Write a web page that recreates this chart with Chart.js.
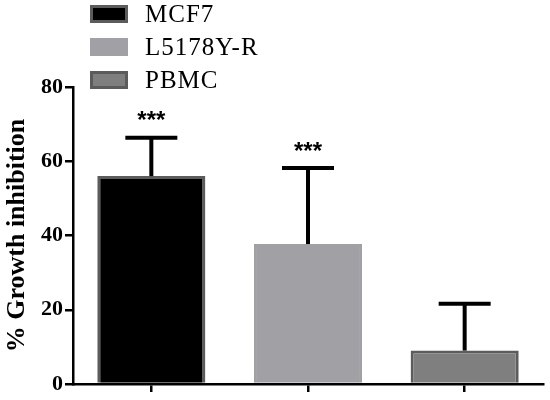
<!DOCTYPE html>
<html>
<head>
<meta charset="utf-8">
<script src="https://cdn.jsdelivr.net/npm/chart.js@4.4.0/dist/chart.umd.min.js"></script>
<style>
    html, body { margin: 0; padding: 0; background: #fff; }
    #wrap { width: 550px; height: 400px; }
</style>
</head>
<body>
<div id="wrap"><canvas id="bar_chart"></canvas></div>
<script>
var categories = ['MCF7', 'L5178Y-R', 'PBMC'];
var growthInhibition = [56, 37.7, 9];
var errorUpper = [10.3, 20.5, 12.6];
var significance = ['***', '***', ''];
var yTicks = [0, 20, 40, 60, 80];

var fillColors = ['#000000', '#a1a1a5', '#7f7f7f'];
var borderColors = ['#5c5c5c', '#a1a1a5', '#5c5c5c'];

var serif = '"Liberation Serif", "Times New Roman", serif';

// upper error bars + stars
var errorBars = {
    id: 'errorBars',
    afterDatasetsDraw: function (chart) {
        var ctx = chart.ctx;
        var meta = chart.getDatasetMeta(0);
        var y = chart.scales.y;
        ctx.save();
        ctx.strokeStyle = '#000';
        ctx.lineCap = 'butt';
        meta.data.forEach(function (bar, i) {
            var top = y.getPixelForValue(growthInhibition[i] + errorUpper[i]);
            ctx.lineWidth = 4;
            ctx.beginPath();
            ctx.moveTo(bar.x, bar.y);
            ctx.lineTo(bar.x, top);
            ctx.stroke();
            ctx.beginPath();
            ctx.moveTo(bar.x - 26, top);
            ctx.lineTo(bar.x + 26, top);
            ctx.stroke();
            if (significance[i]) {
                ctx.fillStyle = '#000';
                ctx.font = 'bold 24px "Liberation Sans", Arial, sans-serif';
                ctx.textAlign = 'center';
                ctx.textBaseline = 'middle';
                ctx.fillText(significance[i], bar.x, top - 16);
            }
        });
        ctx.restore();
    }
};

// stacked legend in the top left corner
var sideLegend = {
    id: 'sideLegend',
    afterDraw: function (chart) {
        var ctx = chart.ctx;
        ctx.save();
        ctx.font = '25px ' + serif;
        ctx.letterSpacing = '1px';
        ctx.textBaseline = 'middle';
        ctx.textAlign = 'left';
        categories.forEach(function (name, i) {
            var cy = 14 + i * 33;
            ctx.fillStyle = borderColors[i];
            ctx.fillRect(90, cy - 9, 38, 18);
            ctx.fillStyle = fillColors[i];
            ctx.fillRect(93, cy - 6, 32, 12);
            ctx.fillStyle = '#000';
            ctx.fillText(name, 145, cy + 1);
        });
        ctx.restore();
    }
};

function getChartJs() {
    var config = {
        type: 'bar',
        data: {
            labels: categories,
            datasets: [{
                data: growthInhibition,
                backgroundColor: fillColors,
                borderColor: borderColors,
                borderWidth: 3,
                borderSkipped: 'bottom',
                categoryPercentage: 1,
                barPercentage: 0.69
            }]
        },
        options: {
            responsive: true,
            maintainAspectRatio: false,
            animation: false,
            layout: { padding: { top: 87, right: 7, left: 0, bottom: 0 } },
            plugins: { legend: { display: false }, tooltip: { enabled: false } },
            scales: {
                x: {
                    border: { color: '#000', width: 2.5 },
                    grid: { offset: false, drawOnChartArea: false, drawTicks: true, tickLength: 8, tickColor: '#000', lineWidth: 2.5 },
                    ticks: { callback: function () { return ''; } },
                    afterFit: function (scale) { scale.height = 16; }
                },
                y: {
                    min: 0,
                    max: 80,
                    afterBuildTicks: function (scale) {
                        scale.ticks = yTicks.map(function (v) { return { value: v }; });
                    },
                    border: { color: '#000', width: 2.5 },
                    grid: { drawOnChartArea: false, tickLength: 8, tickColor: '#000', lineWidth: 2.5 },
                    ticks: { color: '#000', padding: 2, font: { family: serif, size: 22, weight: 'bold' } },
                    title: {
                        display: true,
                        text: '% Growth inhibition',
                        color: '#000',
                        padding: { top: 2, bottom: 0 },
                        font: { family: serif, size: 26, weight: 'bold' }
                    },
                    afterFit: function (scale) { scale.width = 73; }
                }
            }
        },
        plugins: [errorBars, sideLegend]
    };
    return config;
}

new Chart(document.getElementById('bar_chart').getContext('2d'), getChartJs());
</script>
</body>
</html>
